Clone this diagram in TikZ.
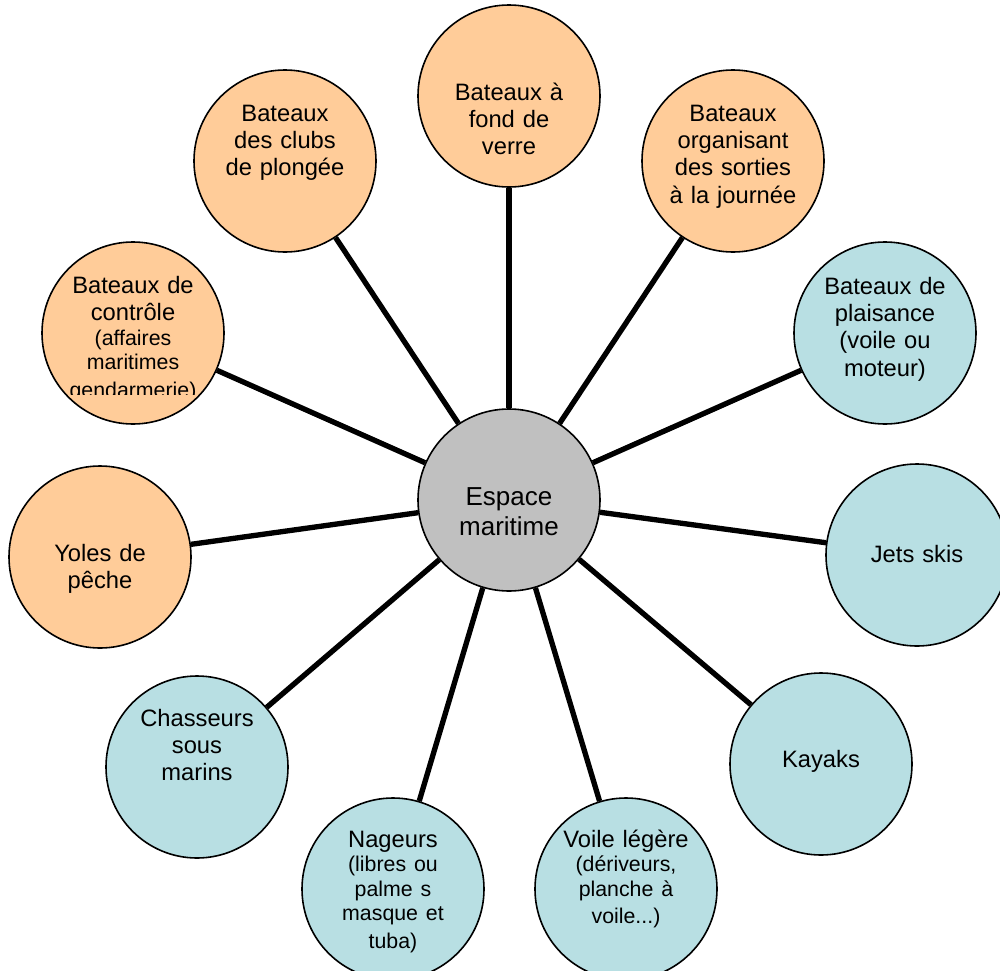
\documentclass[tikz,border=0pt]{standalone}
\usepackage{fontspec}
\setmainfont{Liberation Sans}
\definecolor{orangefill}{HTML}{FFCC99}
\definecolor{bluefill}{HTML}{B8DFE3}
\definecolor{grayfill}{HTML}{C0C0C0}
\newcommand{\smalltxt}{\fontsize{16}{18.4}\selectfont}
\begin{document}
\begin{tikzpicture}[x=0.75pt,y=-0.75pt,
  bubble/.style={circle, draw=black, line width=1.2pt, minimum size=136.5pt, inner sep=0pt},
  orangebubble/.style={bubble, fill=orangefill},
  bluebubble/.style={bubble, fill=bluefill},
  centerbubble/.style={bubble, fill=grayfill},
  txt/.style={anchor=base, inner sep=0pt, align=center, text width=140pt, font=\fontsize{17.8}{20.6}\selectfont},
  centertxt/.style={txt, font=\fontsize{19.5}{22.5}\selectfont},
  spoke/.style={line width=4pt, black}]
\useasboundingbox (0,0) rectangle (1000,971);
\clip (0,0) rectangle (1000,971);

% circles
\node[centerbubble] (c) at (509,500) {};
\node[orangebubble] (verre) at (509,96) {};
\node[orangebubble] (journee) at (733,161) {};
\node[bluebubble] (plaisance) at (885,333) {};
\node[bluebubble] (jets) at (917,555) {};
\node[bluebubble] (kayaks) at (821,764) {};
\node[bluebubble] (voile) at (626,889) {};
\node[bluebubble] (nageurs) at (393,889) {};
\node[bluebubble] (chasseurs) at (197,767) {};
\node[orangebubble] (yoles) at (100,557) {};
\node[orangebubble] (controle) at (133,333) {};
\node[orangebubble] (clubs) at (285,161) {};

% connectors
\foreach \n in {verre,journee,plaisance,jets,kayaks,voile,nageurs,chasseurs,yoles,controle,clubs}
  \draw[spoke] (c) -- (\n);

% texts
\node[centertxt] (tc) at (509,505) {Espace\\maritime};
\node[txt] (tverre) at (509,100) {Bateaux à\\fond de\\verre};
\node[txt] (tjournee) at (733,121) {Bateaux\\organisant\\des sorties\\à la journée};
\node[txt] (tplaisance) at (885,294) {Bateaux de\\plaisance\\(voile ou\\moteur)};
\node[txt] (tjets) at (917,562) {Jets skis};
\node[txt] (tkayaks) at (821,767) {Kayaks};
\node[txt] (tvoile) at (626,847) {Voile légère\par\smalltxt (dériveurs,\\planche à\\voile...)};
\node[txt] (tnageurs) at (393,847) {Nageurs\par\smalltxt (libres ou\\palme s\\masque et\\tuba)};
\node[txt] (tchasseurs) at (197,726) {Chasseurs\\sous\\marins};
\node[txt] (tyoles) at (100,561) {Yoles de\\pêche};
\begin{scope}
\clip (0,230) rectangle (300,394);
\node[txt] (tcontrole) at (133,293) {Bateaux de\\contrôle\par\smalltxt (affaires\\maritimes\\gendarmerie)};
\end{scope}
\node[txt] (tclubs) at (285,121) {Bateaux\\des clubs\\de plongée};
\end{tikzpicture}
\end{document}
